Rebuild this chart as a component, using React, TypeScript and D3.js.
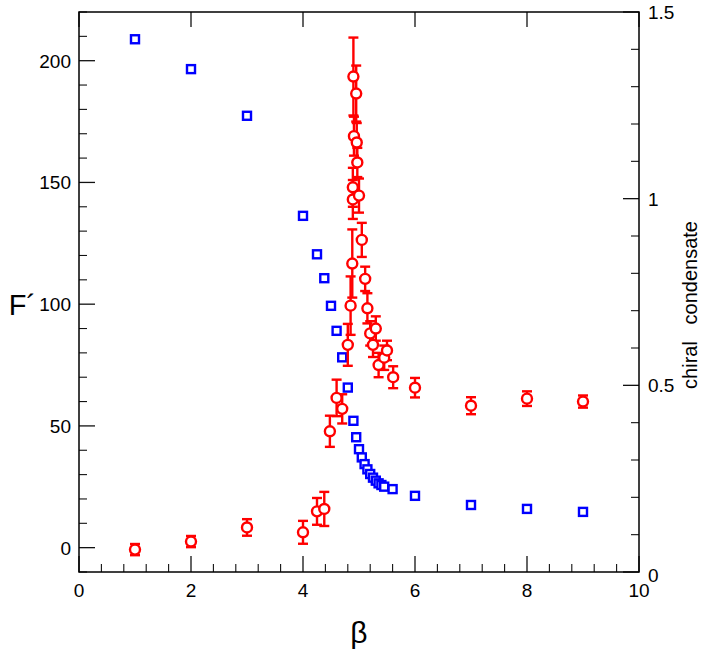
import React from "react";
import * as d3 from "d3";

// F' (left axis) with error bars — red circles
const fBeta = [1, 2, 3, 4, 4.25, 4.38, 4.48, 4.6, 4.7, 4.8, 4.85, 4.88, 4.89, 4.89, 4.9, 4.91, 4.95, 4.96, 4.97, 5.0, 5.05, 5.11, 5.15, 5.2, 5.25, 5.3, 5.35, 5.45, 5.5, 5.61, 6, 7, 8, 9];
const fValue = [-0.8, 2.5, 8.3, 6.3, 14.9, 15.9, 47.8, 61.5, 57, 83.3, 99.4, 116.7, 143, 148, 193.5, 169, 186.5, 166.4, 158.2, 144.6, 126.4, 110.4, 98.3, 88, 83.3, 90, 75, 78, 81, 70, 65.7, 58.3, 61.2, 60];
const fError = [2.3, 2.3, 3.4, 4.7, 5.5, 7, 6.4, 7.5, 6, 8.6, 12, 14, 8, 8, 16, 8, 11.5, 8, 6, 7, 7, 5, 6.2, 5, 5, 5, 5, 5, 4, 4.5, 4, 3.5, 3, 2.5];

// chiral condensate (right axis) — blue squares
const cBeta = [1, 2, 3, 4, 4.25, 4.38, 4.5, 4.6, 4.7, 4.8, 4.9, 4.95, 5.0, 5.05, 5.1, 5.15, 5.2, 5.25, 5.3, 5.35, 5.4, 5.45, 5.6, 6, 7, 8, 9];
const cValue = [1.427, 1.347, 1.222, 0.954, 0.851, 0.787, 0.713, 0.646, 0.575, 0.494, 0.405, 0.361, 0.329, 0.307, 0.289, 0.275, 0.2625, 0.2527, 0.2446, 0.2375, 0.233, 0.2286, 0.222, 0.204, 0.1795, 0.169, 0.161];

const xMajor = [0, 2, 4, 6, 8, 10];
const yLeftMajor = [0, 50, 100, 150, 200];
const yRightMajor = [0, 0.5, 1, 1.5];
const yRightLabels = ["0", "0.5", "1", "1.5"];

const W = 706, H = 655;
const L = 79, R = 639, T = 12, B = 572;
const FONT = "'Liberation Sans', Arial, Helvetica, sans-serif";

export default function App() {
  const x = d3.scaleLinear().domain([0, 10]).range([L, R]);
  const yL = d3.scaleLinear().domain([-10, 220]).range([B, T]);
  const yR = d3.scaleLinear().domain([0, 1.5]).range([B, T]);

  const xMinor = d3.range(0, 10.001, 0.4).filter(v => xMajor.every(m => Math.abs(m - v) > 1e-6));
  const yLMinor = d3.range(-10, 220.001, 10).filter(v => yLeftMajor.every(m => Math.abs(m - v) > 1e-6));
  const yRMinor = d3.range(0, 1.5001, 0.1).filter(v => yRightMajor.every(m => Math.abs(m - v) > 1e-6));

  const tickColor = "#111";
  const red = "#ff0000";
  const blue = "#0000ff";

  return (
    <svg width={W} height={H} style={{ position: "absolute", left: 0, top: 0, background: "#fff" }} fontFamily={FONT}>
      <rect x={0} y={0} width={W} height={H} fill="#fff" />
      {/* bottom ticks */}
      {xMajor.map(v => <line key={"xb" + v} x1={x(v)} x2={x(v)} y1={B} y2={B - 16} stroke={tickColor} strokeWidth={1.3} />)}
      {xMinor.map(v => <line key={"xbm" + v} x1={x(v)} x2={x(v)} y1={B} y2={B - 8} stroke={tickColor} strokeWidth={1.1} />)}
      {/* top ticks */}
      {xMajor.map(v => <line key={"xt" + v} x1={x(v)} x2={x(v)} y1={T} y2={T + 15} stroke={tickColor} strokeWidth={1.3} />)}
      {/* left ticks */}
      {yLeftMajor.map(v => <line key={"yl" + v} x1={L} x2={L + 16} y1={yL(v)} y2={yL(v)} stroke={tickColor} strokeWidth={1.3} />)}
      {yLMinor.map(v => <line key={"ylm" + v} x1={L} x2={L + 8} y1={yL(v)} y2={yL(v)} stroke={tickColor} strokeWidth={1.1} />)}
      {/* right ticks */}
      {yRightMajor.map(v => <line key={"yr" + v} x1={R} x2={R - 16} y1={yR(v)} y2={yR(v)} stroke={tickColor} strokeWidth={1.3} />)}
      {yRMinor.map(v => <line key={"yrm" + v} x1={R} x2={R - 8} y1={yR(v)} y2={yR(v)} stroke={tickColor} strokeWidth={1.1} />)}
      {/* frame */}
      <rect x={L} y={T} width={R - L} height={B - T} fill="none" stroke="#000" strokeWidth={1.5} />

      {/* tick labels */}
      {xMajor.map(v => (
        <text key={"xl" + v} x={x(v)} y={597} fontSize={19} textAnchor="middle">{v}</text>
      ))}
      {yLeftMajor.map(v => (
        <text key={"yll" + v} x={71} y={yL(v) + 7} fontSize={19} textAnchor="end">{v}</text>
      ))}
      {yRightMajor.map((v, i) => (
        <text key={"yrl" + v} x={648} y={yR(v) + (v === 0 ? 10 : 7)} fontSize={19} textAnchor="start">{yRightLabels[i]}</text>
      ))}

      {/* axis titles */}
      <text x={x(5)} y={643} fontSize={30} textAnchor="middle">β</text>
      <text x={36} y={yL(100) + 11} fontSize={29} textAnchor="end">F´</text>
      <text transform={`translate(697,${305}) rotate(-90)`} fontSize={20} textAnchor="middle" xmlSpace="preserve">chiral   condensate</text>

      {/* blue squares */}
      {cBeta.map((b, i) => (
        <rect key={"c" + i} x={x(b) - 4} y={yR(cValue[i]) - 4} width={8} height={8} fill="#fff" stroke={blue} strokeWidth={2.4} />
      ))}

      {/* red error bars */}
      {fBeta.map((b, i) => {
        const cx = x(b);
        const y1 = yL(fValue[i] - fError[i]);
        const y2 = yL(fValue[i] + fError[i]);
        return (
          <g key={"e" + i} stroke={red} strokeWidth={2.4}>
            <line x1={cx} x2={cx} y1={y1} y2={y2} />
            <line x1={cx - 5} x2={cx + 5} y1={y1} y2={y1} />
            <line x1={cx - 5} x2={cx + 5} y1={y2} y2={y2} />
          </g>
        );
      })}
      {/* red circles */}
      {fBeta.map((b, i) => (
        <circle key={"f" + i} cx={x(b)} cy={yL(fValue[i])} r={5} fill="#fff" stroke={red} strokeWidth={2.4} />
      ))}
    </svg>
  );
}
